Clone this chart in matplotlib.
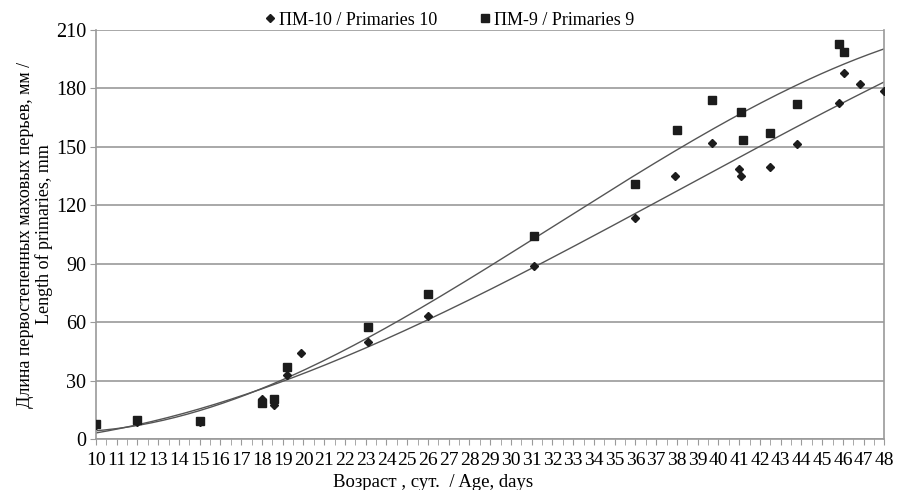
import numpy as np
import matplotlib
matplotlib.use('Agg')
import matplotlib.pyplot as plt
from matplotlib.ticker import MultipleLocator

plt.rcParams['font.family'] = ['Liberation Serif', 'DejaVu Serif']

# ПМ-10 / Primaries 10 (diamonds)
age_p10 = [10, 12, 15, 18, 18.6, 19.2, 19.9, 23.1, 26, 31.1, 36, 37.9, 39.7,
           41.0, 41.1, 42.5, 43.8, 45.8, 46.05, 46.8, 48]
len_p10 = [7, 8.7, 9, 20.5, 17.5, 33, 44, 49.8, 63, 89, 113.5, 135, 152,
           138.5, 135, 139.6, 151.5, 172.5, 188, 182, 178.5]

# ПМ-9 / Primaries 9 (squares)
age_p9 = [10, 12, 15, 18, 18.6, 19.2, 23.1, 26, 31.1, 36, 38, 39.7, 41.1,
          41.2, 42.5, 43.8, 45.8, 46.05]
len_p9 = [7.7, 9.8, 9.2, 18.5, 20.5, 37, 57.5, 74.5, 104, 131, 158.6, 174,
          168, 153.5, 157, 172, 203, 198.7]

xticks = list(range(10, 49))

fig = plt.figure(figsize=(8.97, 4.90), dpi=100)
ax = fig.add_axes([0.107, 0.104, 0.879, 0.835])

grey = '#9a9a9a'
ink = '#1c1c1c'

# polynomial trend lines (like the spreadsheet ones)
xs = np.linspace(10, 48, 200)
c10 = np.polyfit(age_p10, len_p10, 3)
c9 = np.polyfit(age_p9, len_p9, 3)
ax.plot(xs, np.polyval(c9, xs), color='#555555', lw=1.0, zorder=2)
ax.plot(xs, np.polyval(c10, xs), color='#555555', lw=1.0, zorder=2)

ax.plot(age_p10, len_p10, linestyle='none', marker='D', ms=4.5, color=ink,
        label='ПМ-10 / Primaries 10', zorder=3)
ax.plot(age_p9, len_p9, linestyle='none', marker='s', ms=6, color=ink,
        label='ПМ-9 / Primaries 9', zorder=3)

ax.set_xlim(10, 48)
ax.set_ylim(0, 210)
ax.set_xticks(xticks)
ax.set_xticklabels([str(t) for t in xticks])
ax.xaxis.set_minor_locator(MultipleLocator(0.5))
ax.set_yticks(range(0, 211, 30))
ax.grid(axis='y', color=grey, lw=1.2)
ax.set_axisbelow(True)

for s in ['left', 'right', 'bottom']:
    ax.spines[s].set_color(grey)
    ax.spines[s].set_linewidth(1.2)
ax.spines['top'].set_visible(False)

ax.tick_params(axis='x', which='both', direction='out', color=grey, length=4,
               labelsize=14, pad=5)
ax.tick_params(axis='y', direction='out', color=grey, length=4, labelsize=14.5,
               pad=3)

ax.set_xlabel('Возраст , сут.  / Age, days', fontsize=13.5, labelpad=4)
ax.xaxis.set_label_coords(0.428, -0.085)
ax.set_ylabel('Длина первостепенных маховых перьев, мм /\nLength of primaries, mm',
              fontsize=13, labelpad=2, linespacing=1.1)

ax.legend(loc='lower center', bbox_to_anchor=(0.447, 0.985), ncol=2,
          frameon=False, fontsize=13, handletextpad=0.1, columnspacing=2.2,
          handlelength=0.8, borderaxespad=0)

fig.savefig('out.png', dpi=100)
